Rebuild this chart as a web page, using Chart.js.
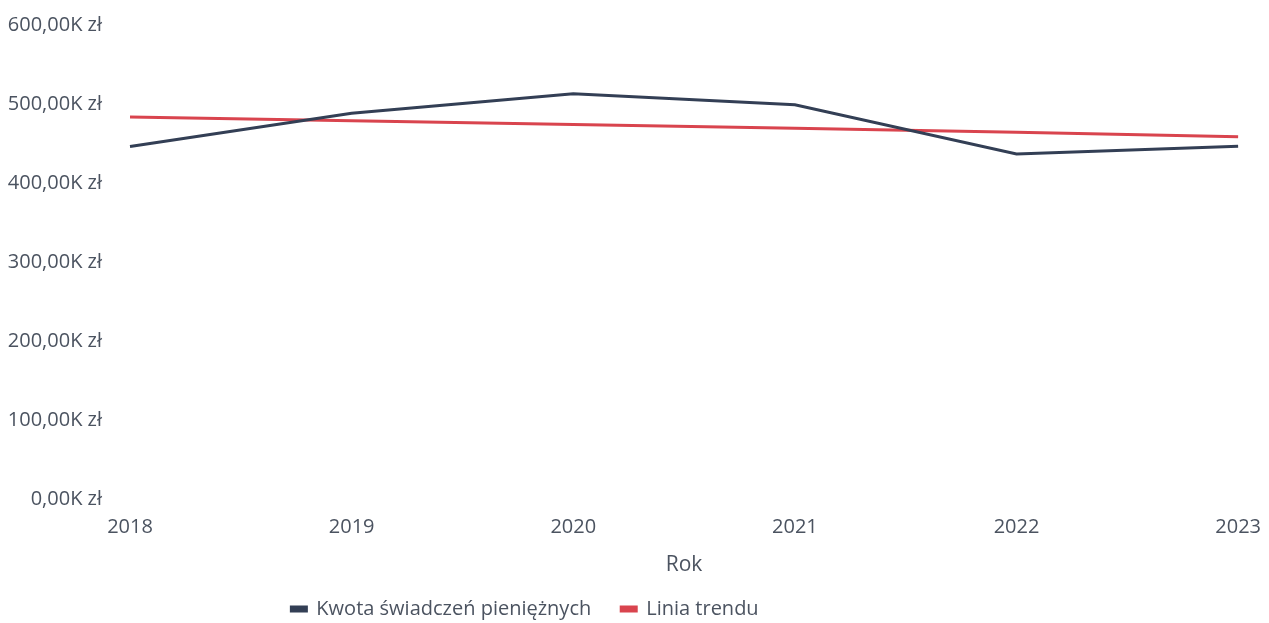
<!DOCTYPE html>
<html>
<head>
<meta charset="utf-8">
<script src="https://cdn.jsdelivr.net/npm/chart.js@4"></script>
<style>
  html, body { margin: 0; padding: 0; background: #fff; }
  #wrap { width: 1269px; height: 623px; }
</style>
</head>
<body>
<div id="wrap"><canvas id="KwotaChart" width="1269" height="623"></canvas></div>
<script>
const years = ['2018', '2019', '2020', '2021', '2022', '2023'];
// kwota w tys. zł
const kwota = [446.2, 488.1, 512.9, 498.9, 436.6, 446.5];
const trend = [483.4, 478.6, 474.0, 469.1, 464.2, 458.5];
const yTicks = [0, 100, 200, 300, 400, 500, 600];

const textColor = '#4b5360';
const font = "'Open Sans', 'DejaVu Sans', sans-serif";

// legend sits left of centre (and a bit tighter) in the original report
const legendShift = {
  id: 'legendShift',
  afterLayout(chart) {
    const lg = chart.legend;
    lg.left -= 96;
    lg.right -= 96;
    lg.top -= 9;
    lg.bottom -= 9;
  }
};

const ctx = document.getElementById('KwotaChart').getContext('2d');

new Chart(ctx, {
  type: 'line',
  data: {
    labels: years,
    datasets: [{
      label: 'Kwota świadczeń pieniężnych',
      data: kwota,
      borderColor: '#333f55',
      backgroundColor: '#333f55',
      borderWidth: 3,
      pointRadius: 0,
      tension: 0
    }, {
      label: 'Linia trendu',
      data: trend,
      borderColor: '#d9444e',
      backgroundColor: '#d9444e',
      borderWidth: 3,
      pointRadius: 0,
      tension: 0
    }]
  },
  options: {
    responsive: false,
    animation: false,
    layout: {
      padding: { top: 25, right: 27, left: 0, bottom: -15 }
    },
    scales: {
      x: {
        grid: { display: false },
        border: { display: false },
        ticks: {
          color: textColor,
          font: { family: font, size: 20 },
          padding: 8,
          maxRotation: 0
        },
        title: {
          display: true,
          text: 'Rok',
          color: textColor,
          font: { family: font, size: 21 },
          padding: { top: 6, bottom: 0 }
        }
      },
      y: {
        min: 0,
        max: 600,
        afterBuildTicks: axis => {
          axis.ticks = yTicks.map(v => ({ value: v }));
        },
        afterFit: axis => {
          axis.width = 130;
          axis.paddingTop = 0;
          axis.paddingBottom = 0;
        },
        grid: { display: false },
        border: { display: false },
        ticks: {
          color: textColor,
          font: { family: font, size: 20 },
          padding: 20,
          callback: v => v + ',00K zł'
        }
      }
    },
    plugins: {
      legend: {
        position: 'bottom',
        labels: {
          color: textColor,
          font: { family: font, size: 20 },
          boxWidth: 15,
          boxHeight: 4,
          padding: 30
        }
      },
      tooltip: { enabled: false }
    }
  },
  plugins: [legendShift]
});
</script>
</body>
</html>
